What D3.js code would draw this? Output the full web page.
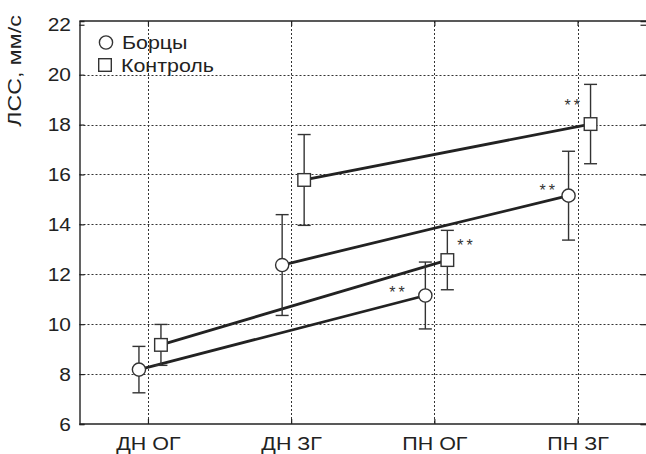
<!DOCTYPE html>
<html>
<head>
<meta charset="utf-8">
<script src="https://cdn.jsdelivr.net/npm/d3@7"></script>
<style>
  html, body { margin: 0; padding: 0; background: #fff; }
  svg { display: block; }
  text { font-family: "Liberation Sans", Arial, sans-serif; fill: #222; }
</style>
</head>
<body>
<svg id="chart" width="646" height="454"></svg>
<script>
// Groups along the x axis
const categories = ["ДН ОГ", "ДН ЗГ", "ПН ОГ", "ПН ЗГ"];
// Y axis tick values
const yTicks = [6, 8, 10, 12, 14, 16, 18, 20, 22];

// Series: mean values and error-bar half-widths
const fightersMean = [8.18, 12.37, 11.15, 15.15];
const fightersErr  = [0.93, 2.02, 1.34, 1.78];
const controlMean  = [9.17, 15.78, 12.57, 18.02];
const controlErr   = [0.82, 1.82, 1.19, 1.59];

// Pairs of categories joined by a line
const links = [[0, 2], [1, 3]];
// Significance marks (series, category index)
const signif = [
  { series: "Борцы", i: 2, label: "**" },
  { series: "Борцы", i: 3, label: "**" },
  { series: "Контроль", i: 2, label: "**" },
  { series: "Контроль", i: 3, label: "**" }
];

const series = [
  { name: "Борцы", mean: fightersMean, err: fightersErr, shape: "circle", dodge: -9 },
  { name: "Контроль", mean: controlMean, err: controlErr, shape: "square", dodge: 13 }
];
// Placement of the "**" marks relative to the point
const starOffset = {
  "Борцы": [[-28, -6], [-21, -9]],
  "Контроль": [[18, -18], [-18, -22]]
};

const svg = d3.select("#chart");
const L = 79.5, R = 646, T = 21, B = 424;
const RF = 647.5; // right frame sits just past the canvas edge

const x = d3.scalePoint().domain(categories).range([L, R]).padding(0.478);
const y = d3.scaleLinear().domain([6, 22.15]).range([B, T]);

const ink = "#222";
const font = "'Liberation Sans', Arial, sans-serif";

// Dotted grid
const grid = svg.append("g").attr("stroke", "#333").attr("stroke-width", 1)
  .attr("stroke-dasharray", "2,2");
grid.selectAll("line.h").data(yTicks.filter(v => v > 6 && v < 22)).join("line")
  .attr("x1", L).attr("x2", RF)
  .attr("y1", d => Math.round(y(d)) + 0.5).attr("y2", d => Math.round(y(d)) + 0.5);
grid.selectAll("line.v").data(categories).join("line")
  .attr("y1", T).attr("y2", B)
  .attr("x1", d => Math.round(x(d)) + 0.5).attr("x2", d => Math.round(x(d)) + 0.5);

// Axes
const yAxis = d3.axisLeft(y).tickValues(yTicks).tickSize(-5).tickPadding(7.8).tickFormat(d3.format("d"));
const gy = svg.append("g").attr("transform", `translate(${L},0)`).call(yAxis);
const gyR = svg.append("g").attr("transform", `translate(${RF},0)`)
  .call(d3.axisRight(y).tickValues(yTicks).tickSize(-7).tickFormat(""));
const xAxis = d3.axisBottom(x).tickSize(-5).tickPadding(13);
const gx = svg.append("g").attr("transform", `translate(0,${B})`).call(xAxis);
const gxT = svg.append("g").attr("transform", `translate(0,${T})`)
  .call(d3.axisTop(x).tickSize(-5).tickFormat(""));

// Top and bottom frame lines span the full width
gxT.select(".domain").attr("d", `M${L},0H${RF}`);
gx.select(".domain").attr("d", `M${L},0H${RF}`);

[gy, gyR, gx, gxT].forEach(g => {
  g.select(".domain").attr("stroke", ink).attr("stroke-width", 1.4);
  g.selectAll(".tick line").attr("stroke", ink).attr("stroke-width", 1.2);
  g.selectAll(".tick text").attr("fill", ink).style("font-size", "19px")
    .style("font-family", font);
});
// The lettering is set slightly wide
gy.selectAll(".tick text").attr("transform", "scale(1.1,1)");
gx.selectAll(".tick text").attr("transform", "scale(1.13,1)");

// Y title
svg.append("text")
  .attr("transform", "translate(21,71) rotate(-90) scale(1.22,1)")
  .attr("text-anchor", "middle")
  .style("font-size", "19px")
  .text("ЛСС, мм/с");

const px = (s, i) => x(categories[i]) + s.dodge;

// Connecting lines
series.forEach(s => {
  svg.append("g").selectAll("line").data(links).join("line")
    .attr("x1", d => px(s, d[0])).attr("y1", d => y(s.mean[d[0]]))
    .attr("x2", d => px(s, d[1])).attr("y2", d => y(s.mean[d[1]]))
    .attr("stroke", ink).attr("stroke-width", 2.8);
});

// Error bars
series.forEach(s => {
  const g = svg.append("g").attr("stroke", "#333").attr("stroke-width", 1.4);
  categories.forEach((c, i) => {
    const cx = px(s, i), lo = y(s.mean[i] - s.err[i]), hi = y(s.mean[i] + s.err[i]);
    g.append("line").attr("x1", cx).attr("x2", cx).attr("y1", lo).attr("y2", hi);
    g.append("line").attr("x1", cx - 6.5).attr("x2", cx + 6.5).attr("y1", lo).attr("y2", lo);
    g.append("line").attr("x1", cx - 6.5).attr("x2", cx + 6.5).attr("y1", hi).attr("y2", hi);
  });
});

// Markers
function marker(g, shape, cx, cy) {
  if (shape === "circle") {
    g.append("circle").attr("cx", cx).attr("cy", cy).attr("r", 6.6)
      .attr("fill", "#fff").attr("stroke", "#333").attr("stroke-width", 1.4);
  } else {
    g.append("rect").attr("x", cx - 6.3).attr("y", cy - 6.3).attr("width", 12.6).attr("height", 12.6)
      .attr("fill", "#fff").attr("stroke", "#333").attr("stroke-width", 1.4);
  }
}
series.forEach(s => {
  const g = svg.append("g");
  categories.forEach((c, i) => marker(g, s.shape, px(s, i), y(s.mean[i])));
});

// Significance marks
signif.forEach(m => {
  const s = series.find(d => d.name === m.series);
  const k = m.i === 2 ? 0 : 1;
  const [dx, dy] = starOffset[m.series][k];
  svg.append("text")
    .attr("x", px(s, m.i) + dx - 8)
    .attr("y", y(s.mean[m.i]) + dy + 9)
    .style("font-size", "16px")
    .style("letter-spacing", "3px")
    .style("fill", "#333")
    .text(m.label);
});

// Legend
const lg = svg.append("g");
marker(lg, "circle", 106, 42.5);
marker(lg, "square", 105, 65);
lg.append("text").attr("transform", "translate(122,48.5) scale(1.19,1)")
  .style("font-size", "18px").text("Борцы");
lg.append("text").attr("transform", "translate(121,71.5) scale(1.19,1)")
  .style("font-size", "18px").text("Контроль");
</script>
</body>
</html>
